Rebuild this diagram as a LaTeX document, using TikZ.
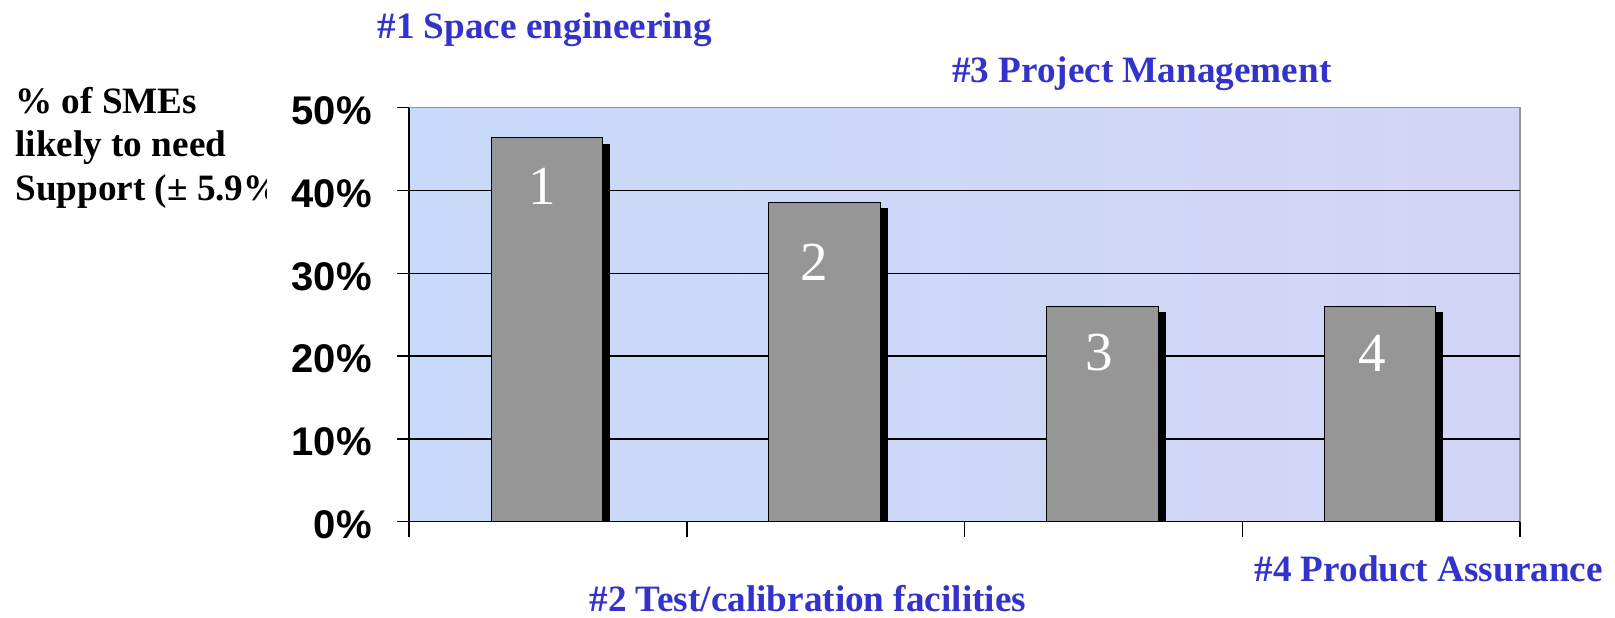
\documentclass[tikz,border=0pt]{standalone}
\usepackage{fontspec}
\setmainfont{Liberation Serif}
\setsansfont{Liberation Sans}
\definecolor{catblue}{RGB}{51,51,204}
\definecolor{plotbg}{RGB}{205,217,247}
\definecolor{bargray}{RGB}{150,150,150}
\definecolor{framegray}{RGB}{150,150,150}
\tikzset{
  cattitle/.style={font=\fontsize{18.6}{22}\selectfont\bfseries, text=catblue, anchor=base west, inner sep=0pt},
  sidetext/.style={font=\fontsize{18.6}{22}\selectfont\bfseries, anchor=base west, inner sep=0pt},
  ylab/.style={font=\sffamily\bfseries\fontsize{20}{24}\selectfont, anchor=east, inner sep=0pt},
  barnum/.style={font=\fontsize{27.5}{30}\selectfont, text=white, inner sep=0pt},
  gridline/.style={line width=0.75pt},
}
\begin{document}
\begin{tikzpicture}[x=0.5pt,y=-0.5pt]
\useasboundingbox (0,0) rectangle (1615,617);
% side label, cut off by the chart area
\begin{scope}
\clip (0,0) rectangle (266,617);
\node[sidetext] (side1) at (15,113) {\% of SMEs};
\node[sidetext] (side2) at (15,156.7) {likely to need};
\node[sidetext] (side3) at (15,200) {Support (± 5.9\%)};
\end{scope}
% plot area
\shade[left color={rgb,255:red,200;green,218;blue,249}, right color={rgb,255:red,212;green,213;blue,246}] (409,107.7) rectangle (1520,521.7);
\draw[framegray,gridline] (409,107.7) -- (1520,107.7) -- (1520,521.7);
\foreach \p in {1,2,3,4} {
  \draw[gridline] (409,{521.7-82.8*\p}) -- (1520,{521.7-82.8*\p});
};
\foreach \p/\t in {0/0,1/10,2/20,3/30,4/40,5/50} {
  \draw[gridline] (397,{521.7-82.8*\p}) -- (409,{521.7-82.8*\p});
  \node[ylab] (ylab\p) at (372,{521.7-82.8*\p+3}) {\t\%};
};
% bars
\foreach \i/\n/\v/\dx/\ly in {0/1/46.4/-5/186.5, 1/2/38.6/-10/262.5, 2/3/26/-3/352.5, 3/4/26/-8/353} {
  \fill ({409+277.75*\i+193.5},{521.7-8.28*\v+6}) rectangle ({409+277.75*\i+201},521.7);
  \draw[fill=bargray,line width=0.5pt] ({409+277.75*\i+82},521.7) rectangle ({409+277.75*\i+193.5},{521.7-8.28*\v});
  \node[barnum] (num\n) at ({409+277.75*\i+137.75+\dx},\ly) {\n};
};
% axes
\draw[gridline] (409,107.7) -- (409,521.7) -- (1520,521.7);
\foreach \c in {0,...,4} {
  \draw[gridline] ({409+277.75*\c},521.7) -- ({409+277.75*\c},537);
};
% category titles
\node[cattitle] (cat1) at (377,38) {\#1 Space engineering};
\node[cattitle] (cat2) at (589,611) {\#2 Test/calibration facilities};
\node[cattitle] (cat3) at (951.7,82.7) {\#3 Project Management};
\node[cattitle] (cat4) at (1254,581.7) {\#4 Product Assurance};
\end{tikzpicture}
\end{document}
